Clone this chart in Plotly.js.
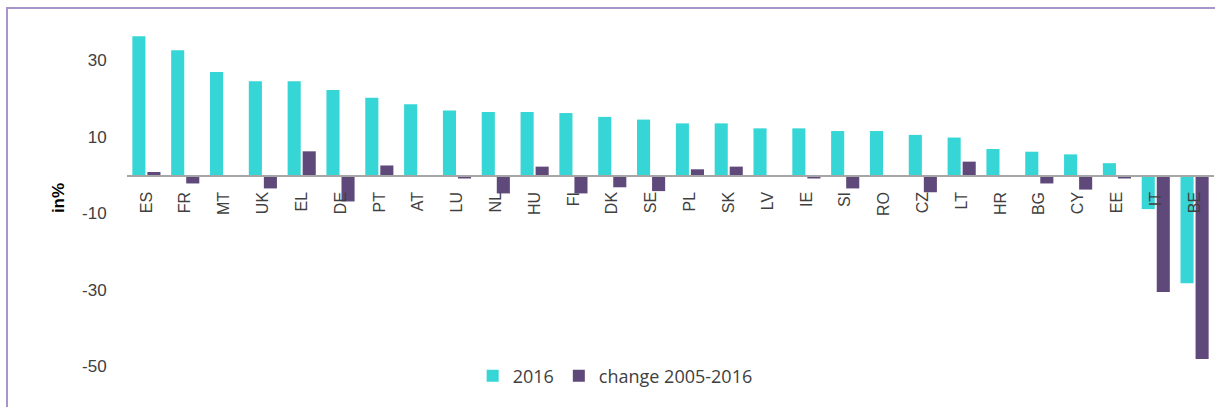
<!DOCTYPE html>
<html>
<head>
<meta charset="utf-8">
<script src="https://cdn.plot.ly/plotly-3.0.1.min.js"></script>
<style>
html,body{margin:0;padding:0;background:#fff;overflow:hidden;}
#frame{position:absolute;left:6px;top:7px;width:1230px;height:420px;border-left:2px solid #a995c9;border-top:2px solid #a995c9;box-sizing:border-box;}
#chart{position:absolute;left:0;top:0;width:1215px;height:407px;}
</style>
</head>
<body>
<div id="frame"></div>
<div id="chart"></div>
<script>
const countries = ["ES","FR","MT","UK","EL","DE","PT","AT","LU","NL","HU","FI","DK","SE","PL","SK","LV","IE","SI","RO","CZ","LT","HR","BG","CY","EE","IT","BE"];
const values2016 = [36.3,32.6,26.9,24.5,24.5,22.2,20.2,18.5,16.9,16.5,16.5,16.2,15.2,14.5,13.5,13.5,12.2,12.2,11.5,11.5,10.5,9.8,6.8,6.1,5.4,3.1,-8.9,-28.3];
const change2005_2016 = [0.8,-2.2,0,-3.5,6.2,-6.9,2.5,0,-0.9,-4.8,2.2,-4.8,-3.2,-4.2,1.5,2.2,0,-0.9,-3.5,0,-4.5,3.5,0,-2.2,-3.8,-0.9,-30.6,-48.1];
const yTicks = [-50,-30,-10,10,30];
const yRange = [-52, 40];

const traces = [
  {type:'bar', name:'2016', x:countries, y:values2016, marker:{color:'#36d5d6'}},
  {type:'bar', name:'change 2005-2016', x:countries, y:change2005_2016, marker:{color:'#5f497a'}}
];

const layout = {
  width:1215, height:407,
  paper_bgcolor:'rgba(0,0,0,0)', plot_bgcolor:'rgba(0,0,0,0)',
  margin:{l:127, r:1, t:22, b:33},
  barmode:'group', bargap:0.225, bargroupgap:0.13,
  font:{family:'Liberation Sans, Arial, sans-serif', color:'#404040'},
  showlegend:true,
  legend:{orientation:'h', x:0.318, xanchor:'left', xref:'paper', y:-0.006, yanchor:'middle',
          font:{size:18, family:'Open Sans, Liberation Sans, sans-serif', color:'#404040'}, itemwidth:30, traceorder:'normal', bgcolor:'rgba(0,0,0,0)'},
  xaxis:{type:'category', anchor:'free', position:(0 - yRange[0])/(yRange[1]-yRange[0]),
         showline:true, linecolor:'#a6a6a6', linewidth:1.5,
         tickangle:-90, tickfont:{size:16, color:'#404040'},
         ticks:'outside', ticklen:9, tickcolor:'rgba(0,0,0,0)', showgrid:false, zeroline:false, fixedrange:true},
  yaxis:{range:yRange, tickvals:yTicks, ticktext:yTicks.map(String),
         showgrid:false, zeroline:false, showline:false,
         ticks:'outside', ticklen:16, tickcolor:'rgba(0,0,0,0)',
         tickfont:{size:17, color:'#404040'},
         title:{text:'<b>in%</b>', font:{size:17, color:'#000'}, standoff:13}}
};

Plotly.newPlot('chart', traces, layout, {staticPlot:true, displayModeBar:false});
</script>
</body>
</html>
